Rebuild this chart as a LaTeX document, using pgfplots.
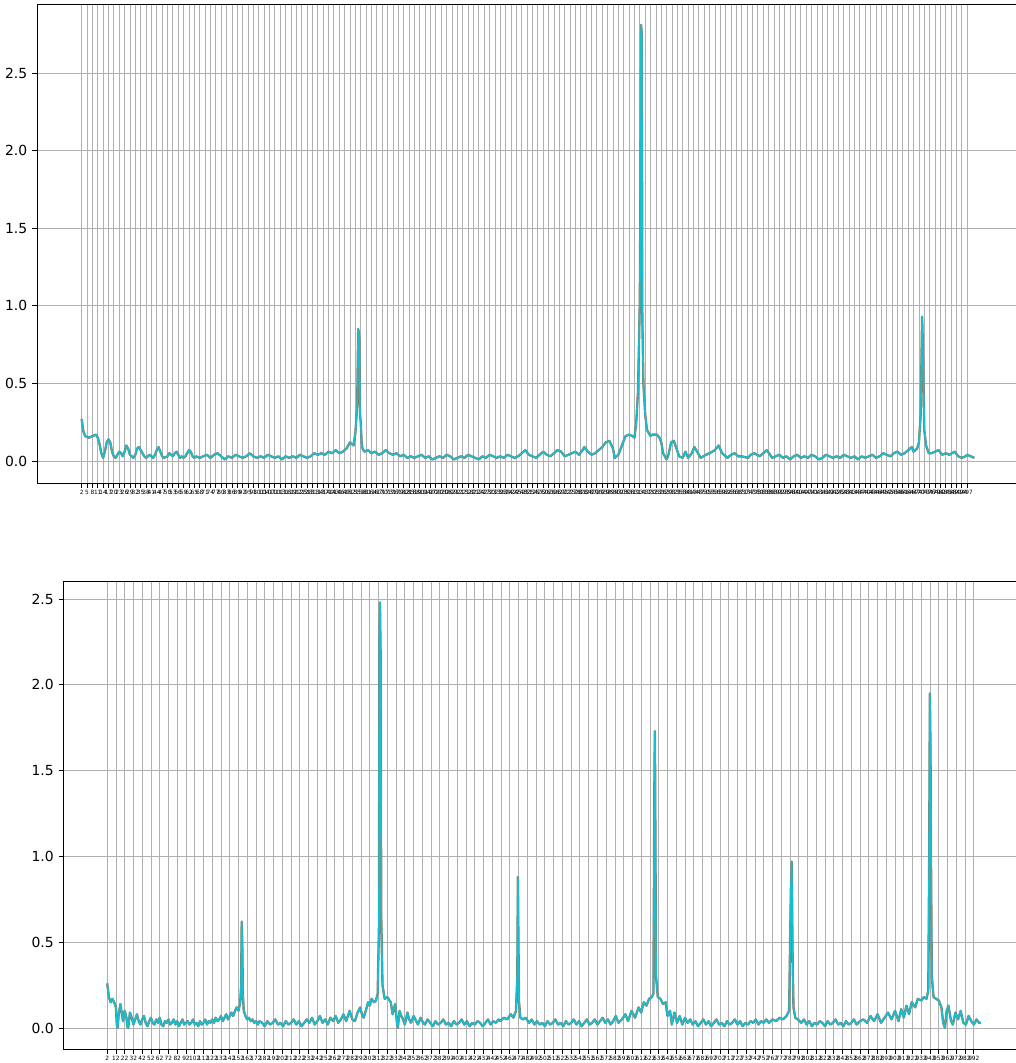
\documentclass[border=0pt]{standalone}
\usepackage{fontspec}
\setmainfont{DejaVu Sans}
\usepackage{pgfplots}
\usepackage{pgfplotstable}
\pgfplotsset{compat=1.18}
\definecolor{tabcyan}{HTML}{17BECF}
\definecolor{under}{HTML}{8C7A66}
\definecolor{gridc}{HTML}{B0B0B0}

\pgfplotstableread{
x y
2 0.27
3 0.19
4 0.16
6 0.15
8 0.16
10 0.17
11 0.15
12 0.11
13 0.05
14 0.02
15 0.06
16 0.12
17 0.14
18 0.12
19 0.06
20 0.03
21 0.02
22 0.04
23 0.06
24 0.05
25 0.03
26 0.06
27 0.10
28 0.08
29 0.04
30 0.03
31 0.02
32 0.04
33 0.08
34 0.09
35 0.07
36 0.05
37 0.03
38 0.02
39 0.03
40 0.04
41 0.03
42 0.02
43 0.04
44 0.07
45 0.09
46 0.06
47 0.03
48 0.02
50 0.03
51 0.05
52 0.04
53 0.03
54 0.05
55 0.06
56 0.04
57 0.02
58 0.03
59 0.02
60 0.03
61 0.05
62 0.07
63 0.06
64 0.03
65 0.02
66 0.03
68 0.02
70 0.03
72 0.04
74 0.02
76 0.04
78 0.05
80 0.03
82 0.01
84 0.03
86 0.02
88 0.04
90 0.03
92 0.02
94 0.03
96 0.05
98 0.03
100 0.02
102 0.03
104 0.02
106 0.04
108 0.03
110 0.02
112 0.03
114 0.01
116 0.03
118 0.02
120 0.03
122 0.02
124 0.04
126 0.03
128 0.02
130 0.03
132 0.05
134 0.04
136 0.05
138 0.04
140 0.06
142 0.05
144 0.07
146 0.05
148 0.06
150 0.08
152 0.12
154 0.10
155 0.18
156 0.35
156.6 0.85
157.2 0.80
157.6 0.30
158 0.25
158.5 0.12
159 0.08
160 0.06
162 0.07
164 0.05
166 0.06
168 0.04
170 0.05
172 0.07
174 0.05
176 0.04
178 0.05
180 0.03
182 0.04
184 0.02
186 0.03
188 0.02
190 0.03
192 0.04
194 0.02
196 0.03
198 0.01
200 0.02
202 0.03
204 0.02
206 0.04
208 0.03
210 0.01
212 0.02
214 0.03
216 0.02
218 0.04
220 0.03
222 0.02
224 0.01
226 0.03
228 0.02
230 0.04
232 0.03
234 0.02
236 0.03
238 0.02
240 0.04
242 0.03
244 0.02
246 0.03
248 0.05
250 0.07
252 0.04
254 0.03
256 0.02
258 0.04
260 0.06
262 0.04
264 0.03
266 0.05
268 0.07
270 0.06
272 0.03
274 0.04
276 0.05
278 0.06
280 0.04
282 0.07
283 0.09
285 0.06
287 0.04
289 0.05
291 0.07
293 0.09
295 0.12
297 0.13
299 0.08
300 0.02
302 0.04
304 0.10
306 0.16
308 0.17
310 0.16
311 0.15
312 0.25
313 0.45
314 1.03
314.4 1.80
314.7 2.81
315.1 2.75
315.4 0.93
316 0.50
317 0.30
318 0.20
320 0.16
321 0.17
323.5 0.17
325 0.15
326 0.12
327 0.05
329 0.01
330 0.04
331.5 0.12
333 0.13
334.5 0.08
336 0.03
338 0.02
339.5 0.06
341 0.02
343 0.05
344.5 0.09
346 0.06
348 0.02
351 0.04
353 0.05
356 0.07
358 0.10
360 0.05
363 0.02
365 0.04
367 0.05
369 0.03
371 0.03
374.5 0.02
376 0.04
378 0.05
381 0.03
383 0.05
385 0.07
388 0.02
390 0.03
392 0.04
394 0.02
396 0.03
398 0.01
400 0.03
402 0.04
404 0.02
406 0.03
408 0.02
410 0.04
412 0.03
414 0.01
416 0.02
418 0.04
420 0.03
422 0.02
424 0.03
426 0.02
428 0.04
430 0.03
432 0.02
434 0.03
436 0.01
438 0.03
440 0.02
442 0.03
444 0.04
446 0.02
448 0.03
450 0.05
452 0.04
454 0.03
456 0.05
458 0.06
460 0.04
462 0.05
464 0.07
466 0.09
467 0.06
469 0.08
470 0.12
471 0.30
471.8 0.93
472.3 0.70
473 0.20
474 0.10
475.5 0.05
477 0.05
479 0.06
481 0.07
483 0.04
485 0.05
487 0.04
490 0.06
492 0.03
494 0.02
496 0.03
497 0.04
499 0.03
501 0.02
}\topdata

\pgfplotstableread{
x y
2 0.26
4 0.18
6 0.15
8 0.17
10 0.15
12 0.12
13 0.02
14 0.00
15 0.07
17 0.14
19 0.08
20 0.04
22 0.10
24 0.06
25 0.01
26 0.00
28 0.09
30 0.06
32 0.02
34 0.05
36 0.08
38 0.04
40 0.02
42 0.05
44 0.07
46 0.03
48 0.01
50 0.04
52 0.06
54 0.03
56 0.02
58 0.05
60 0.03
62 0.06
64 0.02
66 0.01
68 0.04
70 0.03
72 0.05
74 0.02
76 0.03
78 0.05
80 0.02
82 0.04
84 0.01
86 0.03
88 0.05
90 0.02
92 0.03
94 0.04
96 0.02
98 0.03
100 0.05
102 0.02
104 0.03
106 0.01
108 0.04
110 0.02
112 0.03
114 0.05
116 0.02
118 0.04
120 0.03
122 0.05
124 0.03
126 0.06
128 0.04
130 0.05
132 0.07
134 0.04
136 0.06
138 0.08
140 0.05
142 0.07
144 0.09
146 0.07
148 0.10
150 0.12
152 0.10
154 0.15
155 0.25
155.7 0.62
156.3 0.50
157 0.20
158 0.10
160 0.07
162 0.05
164 0.06
166 0.04
168 0.05
170 0.03
172 0.04
174 0.02
176 0.04
179 0.03
182 0.01
185 0.04
188 0.02
191 0.03
194 0.05
197 0.02
200 0.03
203 0.01
206 0.04
209 0.02
212 0.03
215 0.05
218 0.02
221 0.04
224 0.01
227 0.03
230 0.05
233 0.03
236 0.06
239 0.02
242 0.04
245 0.07
248 0.03
251 0.05
254 0.02
257 0.06
260 0.04
263 0.07
266 0.03
269 0.05
272 0.08
275 0.04
279 0.10
282 0.05
285 0.04
288 0.09
291 0.12
293 0.08
295 0.06
298 0.11
300 0.15
302 0.13
304 0.17
307 0.15
309 0.16
311 0.20
312.5 0.60
313 2.28
313.6 2.48
314.5 2.12
315 0.67
316.5 0.25
319 0.17
322 0.18
326 0.15
328 0.08
331 0.14
333 0.03
334 0.00
336 0.10
338 0.07
340 0.05
342 0.02
345 0.09
347 0.05
349 0.03
352 0.07
355 0.04
357 0.02
360 0.06
363 0.03
365 0.02
368 0.05
371 0.03
374 0.01
377 0.04
380 0.02
383 0.03
386 0.05
389 0.02
392 0.03
395 0.01
398 0.04
401 0.02
404 0.03
407 0.05
410 0.02
413 0.04
416 0.01
419 0.03
422 0.02
425 0.04
428 0.03
431 0.01
434 0.03
437 0.05
440 0.02
443 0.04
446 0.03
449 0.05
451 0.04
455 0.06
459 0.05
463 0.08
466 0.06
469 0.10
470.5 0.30
471.2 0.88
471.8 0.50
472.5 0.15
474 0.06
477 0.05
480 0.06
484 0.03
487 0.05
490 0.02
493 0.04
496 0.02
499 0.03
502 0.01
505 0.04
508 0.02
511 0.03
514 0.05
517 0.02
520 0.03
523 0.01
526 0.04
529 0.02
532 0.03
535 0.05
538 0.02
541 0.04
544 0.01
547 0.03
550 0.05
553 0.02
556 0.03
559 0.05
562 0.02
565 0.04
568 0.06
571 0.03
574 0.05
577 0.02
580 0.04
583 0.07
586 0.03
590 0.05
594 0.08
597 0.04
601 0.10
605 0.06
609 0.12
612 0.09
615 0.15
618 0.13
621 0.17
624 0.18
626 0.20
627.2 1.50
627.7 1.73
628.3 1.05
629 0.30
631 0.18
634 0.17
637 0.14
640 0.15
642 0.07
645 0.10
647 0.02
650 0.09
653 0.03
656 0.07
659 0.02
662 0.06
665 0.03
668 0.05
671 0.02
674 0.04
677 0.01
680 0.03
683 0.05
686 0.02
689 0.04
692 0.01
695 0.03
698 0.05
701 0.02
704 0.03
707 0.01
710 0.04
713 0.02
716 0.03
719 0.05
722 0.02
725 0.04
728 0.01
731 0.03
734 0.02
737 0.04
740 0.03
743 0.05
746 0.02
749 0.04
752 0.03
755 0.05
758 0.03
762 0.05
766 0.04
770 0.06
774 0.05
778 0.07
781 0.10
783 0.80
784 0.97
785 0.40
786 0.12
788 0.06
791 0.05
795 0.03
798 0.05
801 0.02
804 0.04
807 0.01
810 0.03
813 0.02
816 0.04
819 0.03
822 0.01
825 0.04
828 0.02
831 0.03
834 0.05
837 0.02
840 0.03
843 0.01
846 0.04
849 0.02
852 0.03
855 0.05
858 0.02
862 0.04
866 0.05
870 0.03
874 0.07
878 0.04
882 0.08
886 0.03
890 0.06
894 0.09
898 0.05
902 0.10
906 0.04
909 0.11
912 0.06
915 0.13
918 0.08
921 0.15
925 0.12
928 0.17
932 0.16
935 0.18
938 0.17
940 0.22
941 0.98
941.8 1.95
942.5 1.63
943 1.04
944 0.30
946 0.18
949 0.17
952 0.16
955 0.12
957 0.03
959 0.00
961 0.10
963 0.13
966 0.04
968 0.02
971 0.09
974 0.05
977 0.10
980 0.03
983 0.02
986 0.07
989 0.04
992 0.02
995 0.05
998 0.03
1000 0.03
}\botdata

\pgfplotsset{
  mystyle/.style={
    scale only axis,
    axis line style={black, line width=0.58pt},
    grid=major,
    major grid style={gridc, line width=0.58pt},
    tick align=outside,
    xtick pos=lower,
    ytick pos=left,
    major tick length=3.5pt,
    every tick/.style={black, line width=0.58pt},
    /pgf/number format/assume math mode=true,
    ytick={0,0.5,1,1.5,2,2.5},
    yticklabel style={font=\fontsize{10}{12}\selectfont,
      /pgf/number format/fixed, /pgf/number format/fixed zerofill,
      /pgf/number format/precision=1},
    xticklabel style={font=\fontsize{4.2}{5}\selectfont, inner sep=1.5pt,
      /pgf/number format/1000 sep={}},
  }
}

\begin{document}
\begin{tikzpicture}[x=1pt,y=1pt]
\useasboundingbox (0,0) rectangle (730.8,765.36);
\begin{axis}[mystyle,
  at={(26.64pt,417.6pt)}, anchor=south west,
  width=707.04pt, height=344.88pt,
  xmin=-22.95, xmax=525.95, ymin=-0.1418, ymax=2.9446,
  xtick={2,5,...,497}]
\addplot[under, line width=1.7pt, line join=round] table {\topdata};
\addplot[tabcyan, line width=1.15pt, line join=round] table {\topdata};
\end{axis}
\begin{axis}[mystyle,
  at={(45.72pt,10.08pt)}, anchor=south west,
  width=691.92pt, height=336.96pt,
  xmin=-47.9, xmax=1049.9, ymin=-0.1224, ymax=2.605,
  xtick={2,12,...,992}]
\addplot[under, line width=1.7pt, line join=round] table {\botdata};
\addplot[tabcyan, line width=1.15pt, line join=round] table {\botdata};
\end{axis}
\end{tikzpicture}
\end{document}
